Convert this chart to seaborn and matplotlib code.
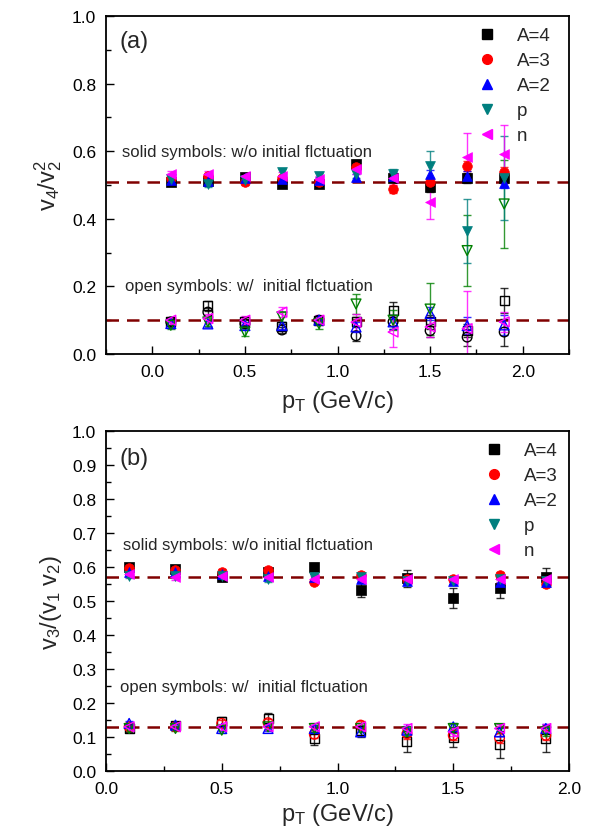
import numpy as np
import pandas as pd
import matplotlib
matplotlib.use("Agg")
import matplotlib.pyplot as plt
from matplotlib.lines import Line2D
from matplotlib.ticker import MultipleLocator
import seaborn as sns

sns.set_theme(style="ticks")
plt.rcParams["font.family"] = ["Liberation Sans", "DejaVu Sans"]
plt.rcParams["mathtext.fontset"] = "custom"
plt.rcParams["mathtext.rm"] = "Liberation Sans"
plt.rcParams["mathtext.it"] = "Liberation Sans"
plt.rcParams["mathtext.bf"] = "Liberation Sans"

pT = [0.1, 0.3, 0.5, 0.7, 0.9, 1.1, 1.3, 1.5, 1.7, 1.9]
labels = ["A=4", "A=3", "A=2", "p", "n"]

# Panel (a): v4/v2^2, solid = without initial fluctuation
a_solid = {
    "A=4": [0.508, 0.512, 0.525, 0.503, 0.503, 0.562, 0.520, 0.494, 0.520, 0.520],
    "A=3": [0.522, 0.527, 0.508, 0.520, 0.510, 0.552, 0.488, 0.508, 0.557, 0.538],
    "A=2": [0.515, 0.513, 0.520, 0.517, 0.515, 0.523, 0.527, 0.532, 0.527, 0.507],
    "p":   [0.518, 0.503, 0.515, 0.538, 0.527, 0.532, 0.533, 0.557, 0.365, 0.520],
    "n":   [0.533, 0.533, 0.527, 0.527, 0.517, 0.547, 0.520, 0.449, 0.582, 0.592],
}
a_solid_err = {
    "A=4": [0.008, 0.008, 0.008, 0.008, 0.010, 0.012, 0.012, 0.015, 0.015, 0.015],
    "A=3": [0.008, 0.008, 0.008, 0.008, 0.010, 0.010, 0.012, 0.012, 0.015, 0.015],
    "A=2": [0.008, 0.008, 0.008, 0.008, 0.010, 0.010, 0.012, 0.012, 0.015, 0.015],
    "p":   [0.008, 0.010, 0.008, 0.010, 0.010, 0.012, 0.015, 0.045, 0.095, 0.125],
    "n":   [0.008, 0.008, 0.008, 0.010, 0.010, 0.015, 0.020, 0.050, 0.072, 0.085],
}
# Panel (a): open = with initial fluctuation
a_open = {
    "A=4": [0.095, 0.143, 0.095, 0.080, 0.100, 0.095, 0.128, 0.095, 0.070, 0.158],
    "A=3": [0.095, 0.124, 0.090, 0.071, 0.100, 0.054, 0.095, 0.069, 0.050, 0.065],
    "A=2": [0.090, 0.089, 0.084, 0.084, 0.100, 0.080, 0.095, 0.120, 0.084, 0.086],
    "p":   [0.085, 0.095, 0.065, 0.110, 0.090, 0.148, 0.100, 0.133, 0.306, 0.444],
    "n":   [0.100, 0.105, 0.100, 0.124, 0.100, 0.094, 0.065, 0.080, 0.075, 0.095],
}
a_open_err = {
    "A=4": [0.010, 0.015, 0.010, 0.010, 0.012, 0.015, 0.025, 0.020, 0.020, 0.037],
    "A=3": [0.010, 0.012, 0.010, 0.010, 0.012, 0.015, 0.020, 0.020, 0.025, 0.040],
    "A=2": [0.010, 0.010, 0.010, 0.010, 0.012, 0.015, 0.020, 0.020, 0.025, 0.030],
    "p":   [0.010, 0.012, 0.012, 0.015, 0.015, 0.030, 0.030, 0.077, 0.105, 0.130],
    "n":   [0.010, 0.012, 0.012, 0.015, 0.015, 0.025, 0.045, 0.030, 0.110, 0.030],
}

# Panel (b): v3/(v1 v2)
b_solid = {
    "A=4": [0.599, 0.594, 0.570, 0.584, 0.599, 0.532, 0.567, 0.509, 0.538, 0.572],
    "A=3": [0.596, 0.592, 0.585, 0.592, 0.557, 0.576, 0.565, 0.565, 0.576, 0.550],
    "A=2": [0.584, 0.585, 0.580, 0.575, 0.570, 0.565, 0.560, 0.560, 0.555, 0.555],
    "p":   [0.575, 0.575, 0.575, 0.565, 0.570, 0.570, 0.560, 0.560, 0.565, 0.560],
    "n":   [0.580, 0.570, 0.575, 0.570, 0.565, 0.565, 0.565, 0.565, 0.565, 0.565],
}
b_solid_err = {
    "A=4": [0.010, 0.010, 0.010, 0.010, 0.012, 0.020, 0.025, 0.030, 0.030, 0.025],
    "A=3": [0.008, 0.008, 0.008, 0.008, 0.008, 0.008, 0.010, 0.010, 0.010, 0.010],
    "A=2": [0.008, 0.008, 0.008, 0.008, 0.008, 0.008, 0.010, 0.010, 0.010, 0.010],
    "p":   [0.008, 0.008, 0.008, 0.008, 0.008, 0.008, 0.010, 0.010, 0.010, 0.010],
    "n":   [0.008, 0.008, 0.008, 0.008, 0.008, 0.008, 0.010, 0.010, 0.010, 0.010],
}
b_open = {
    "A=4": [0.125, 0.135, 0.145, 0.155, 0.096, 0.120, 0.087, 0.100, 0.077, 0.096],
    "A=3": [0.130, 0.130, 0.140, 0.142, 0.108, 0.135, 0.110, 0.105, 0.097, 0.105],
    "A=2": [0.140, 0.135, 0.125, 0.125, 0.125, 0.115, 0.120, 0.130, 0.115, 0.125],
    "p":   [0.125, 0.125, 0.120, 0.130, 0.125, 0.125, 0.115, 0.125, 0.125, 0.115],
    "n":   [0.130, 0.130, 0.130, 0.130, 0.130, 0.130, 0.125, 0.115, 0.125, 0.125],
}
b_open_err = {
    "A=4": [0.010, 0.010, 0.015, 0.015, 0.020, 0.020, 0.030, 0.030, 0.040, 0.040],
    "A=3": [0.008, 0.008, 0.010, 0.010, 0.012, 0.012, 0.015, 0.015, 0.015, 0.015],
    "A=2": [0.008, 0.008, 0.008, 0.008, 0.010, 0.010, 0.012, 0.012, 0.012, 0.012],
    "p":   [0.008, 0.008, 0.008, 0.008, 0.010, 0.010, 0.012, 0.012, 0.012, 0.012],
    "n":   [0.008, 0.008, 0.008, 0.008, 0.010, 0.010, 0.012, 0.012, 0.012, 0.012],
}

markers = {"A=4": "s", "A=3": "o", "A=2": "^", "p": "v", "n": "<"}
solid_colors = {"A=4": "black", "A=3": "#ff0000", "A=2": "#0000ff", "p": "#007f7f", "n": "#ff00ff"}
open_colors_a = {"A=4": "black", "A=3": "black", "A=2": "#0000ff", "p": "#008000", "n": "#ff00ff"}
open_colors_b = {"A=4": "black", "A=3": "#ff0000", "A=2": "#0000ff", "p": "#008000", "n": "#ff00ff"}
sizes = {"A=4": 42, "A=3": 48, "A=2": 50, "p": 50, "n": 50}

W, H = 593, 837
fig = plt.figure(figsize=(W / 100, H / 100), dpi=100)
axA = fig.add_axes([106 / W, 1 - 355 / H, 463 / W, 338 / H])
axB = fig.add_axes([106 / W, 1 - 772 / H, 463 / W, 340 / H])


def draw_group(ax, vals, errs, colors, filled):
    for lab in labels:
        c = colors[lab]
        ax.errorbar(pT, vals[lab], yerr=errs[lab], fmt="none", ecolor=c,
                    elinewidth=1.0, capsize=3, capthick=1.0, alpha=0.8, zorder=2)
        df = pd.DataFrame({"pT": pT, "v": vals[lab]})
        if filled:
            sns.scatterplot(data=df, x="pT", y="v", ax=ax, marker=markers[lab],
                            s=sizes[lab], color=c, edgecolor=c, linewidth=0.5,
                            legend=False, zorder=3)
        else:
            sns.scatterplot(data=df, x="pT", y="v", ax=ax, marker=markers[lab],
                            s=sizes[lab], color="none", edgecolor=c, linewidth=1.0,
                            legend=False, zorder=3)


def style_axes(ax, xlim, ymaj, ymin, xlabelpad):
    ax.set_xlim(*xlim)
    ax.set_ylim(0, 1.0)
    ax.xaxis.set_major_locator(MultipleLocator(0.5))
    ax.xaxis.set_minor_locator(MultipleLocator(0.25))
    ax.yaxis.set_major_locator(MultipleLocator(ymaj))
    ax.yaxis.set_minor_locator(MultipleLocator(ymin))
    ax.xaxis.set_major_formatter(matplotlib.ticker.FormatStrFormatter("%.1f"))
    ax.yaxis.set_major_formatter(matplotlib.ticker.FormatStrFormatter("%.1f"))
    ax.tick_params(which="both", direction="in", top=False, right=False,
                   labelsize=12.5, colors="black")
    ax.tick_params(which="major", length=6, width=1.0, pad=7)
    ax.tick_params(which="minor", length=3.5, width=1.0)
    for sp in ax.spines.values():
        sp.set_visible(True)
        sp.set_linewidth(1.3)
        sp.set_color("black")
    ax.set_xlabel(r"p$_\mathregular{T}$ (GeV/c)", fontsize=17, labelpad=xlabelpad)
    ax.set_facecolor("white")


def add_legend(ax, bbox):
    handles = [Line2D([], [], linestyle="none", marker=markers[l],
                      markerfacecolor=solid_colors[l], markeredgecolor=solid_colors[l],
                      markersize=7) for l in labels]
    ax.legend(handles, labels, loc="upper right", bbox_to_anchor=bbox, frameon=False,
              fontsize=13.5, handletextpad=1.0, labelspacing=0.42, borderaxespad=0.2,
              handlelength=1.2)


DASH = (0, (5, 3.2))

# Panel (a)
draw_group(axA, a_open, a_open_err, open_colors_a, False)
draw_group(axA, a_solid, a_solid_err, solid_colors, True)
axA.axhline(0.51, color="#800000", ls=DASH, lw=1.8, zorder=1)
axA.axhline(0.10, color="#800000", ls=DASH, lw=1.8, zorder=1)
style_axes(axA, (-0.25, 2.25), 0.2, 0.1, 7)
axA.set_ylabel(r"v$_\mathregular{4}$/v$_\mathregular{2}^\mathregular{2}$", fontsize=17, labelpad=6)
axA.text(0.030, 0.925, "(a)", transform=axA.transAxes, fontsize=17, va="center", ha="left")
axA.text(0.034, 0.599, "solid symbols: w/o initial flctuation", transform=axA.transAxes,
         fontsize=12, va="center", ha="left")
axA.text(0.040, 0.203, "open symbols: w/  initial flctuation", transform=axA.transAxes,
         fontsize=12, va="center", ha="left")
add_legend(axA, (0.985, 1.0))

# Panel (b)
draw_group(axB, b_open, b_open_err, open_colors_b, False)
draw_group(axB, b_solid, b_solid_err, solid_colors, True)
axB.axhline(0.57, color="#800000", ls=DASH, lw=1.8, zorder=1)
axB.axhline(0.13, color="#800000", ls=DASH, lw=1.8, zorder=1)
style_axes(axB, (0.0, 2.0), 0.1, 0.05, 4)
axB.set_ylabel(r"v$_\mathregular{3}$/(v$_\mathregular{1}$ v$_\mathregular{2}$)", fontsize=17, labelpad=6)
axB.text(0.030, 0.92, "(b)", transform=axB.transAxes, fontsize=17, va="center", ha="left")
axB.text(0.037, 0.665, "solid symbols: w/o initial flctuation", transform=axB.transAxes,
         fontsize=12, va="center", ha="left")
axB.text(0.030, 0.2485, "open symbols: w/  initial flctuation", transform=axB.transAxes,
         fontsize=12, va="center", ha="left")
add_legend(axB, (1.0, 1.0))

fig.patch.set_facecolor("white")
fig.savefig("out.png", dpi=100, facecolor="white")
